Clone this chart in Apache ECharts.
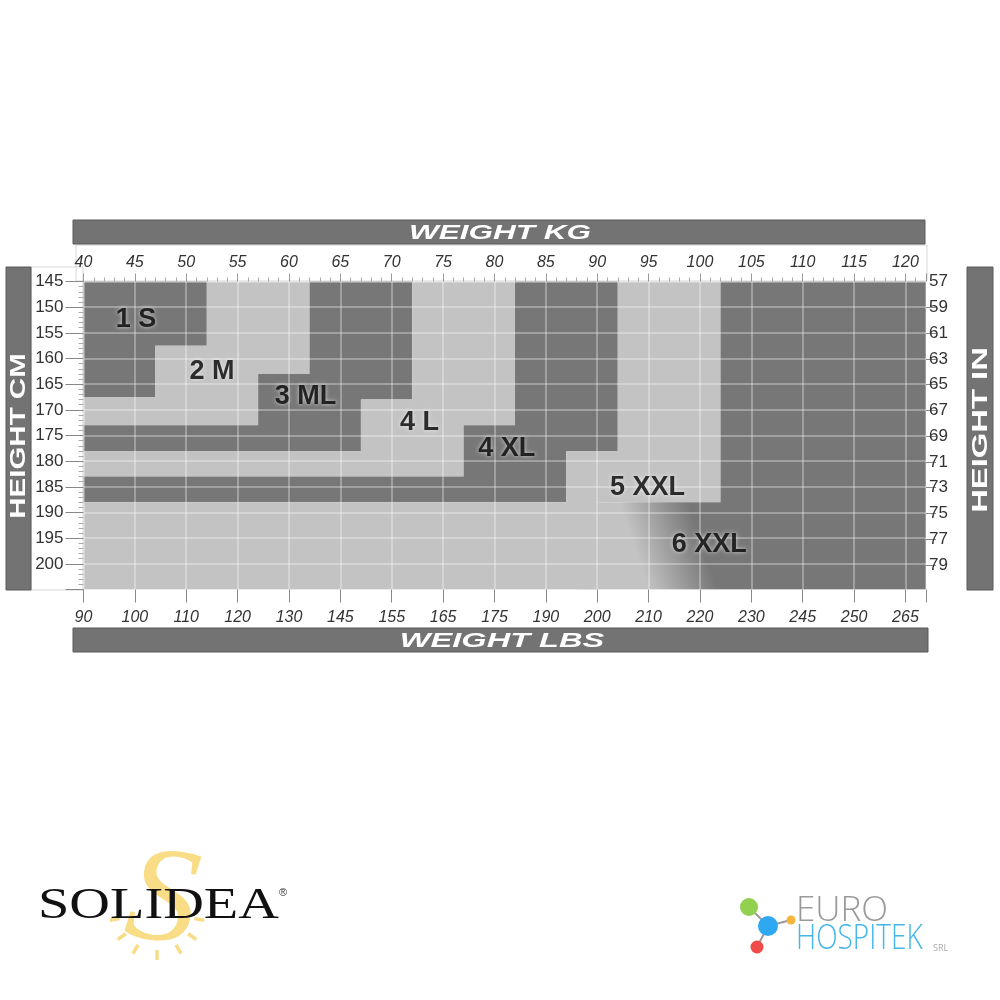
<!DOCTYPE html>
<html lang="en">
<head>
    <meta charset="UTF-8">
    <title>Size chart</title>
    <script src="https://cdn.jsdelivr.net/npm/echarts@6/dist/echarts.min.js"></script>
    <style>
        html, body { margin: 0; padding: 0; background: #fff; }
        #main { width: 1000px; height: 1000px; }
    </style>
</head>
<body>
<div id="main"></div>
<script>
    // axis ranges (kg on x, cm on y, inches on the right)
    var kgMin = 40, kgMax = 122;
    var cmMin = 145, cmMax = 205;
    var inMin = 57, inMax = 80.9;

    var kgLabels = [40, 45, 50, 55, 60, 65, 70, 75, 80, 85, 90, 95, 100, 105, 110, 115, 120];
    var lbsLabels = ['90', '100', '110', '120', '130', '145', '155', '165', '175', '190', '200', '210', '220', '230', '245', '250', '265'];
    var cmLabels = [145, 150, 155, 160, 165, 170, 175, 180, 185, 190, 195, 200];
    var inchTicks = [57, 59, 61, 63, 65, 67, 69, 71, 73, 75, 77, 79];

    // size areas, outline as [kg, cm]
    var sizeNames = ['1 S', '2 M', '3 ML', '4 L', '4 XL', '5 XXL', '6 XXL'];
    var sizeShapes = [
        [[40, 145], [52, 145], [52, 157.5], [47, 157.5], [47, 167.5], [40, 167.5]],
        [[52, 145], [62, 145], [62, 163], [57, 163], [57, 173], [40, 173], [40, 167.5], [47, 167.5], [47, 157.5], [52, 157.5]],
        [[62, 145], [72, 145], [72, 168], [67, 168], [67, 178], [40, 178], [40, 173], [57, 173], [57, 163], [62, 163]],
        [[72, 145], [82, 145], [82, 173], [77, 173], [77, 183], [40, 183], [40, 178], [67, 178], [67, 168], [72, 168]],
        [[82, 145], [92, 145], [92, 178], [87, 178], [87, 188], [40, 188], [40, 183], [77, 183], [77, 173], [82, 173]],
        [[92, 145], [102, 145], [102, 188], [90, 188], [90, 205], [40, 205], [40, 188], [87, 188], [87, 178], [92, 178]],
        [[102, 145], [122, 145], [122, 205], [88, 205], [88, 188], [102, 188]]
    ];
    var labelKg = [45.1, 52.5, 61.6, 72.7, 81.2, 94.9, 100.9];
    var labelCm = [152.4, 162.5, 167.4, 172.5, 177.5, 185.1, 196.3];

    var DARK = '#777777';
    var LIGHT = '#c3c3c3';

    function renderArea(params, api) {
        var idx = params.dataIndex;
        var pts = sizeShapes[idx].map(function (p) { return api.coord(p); });
        var fill = idx % 2 === 0 ? DARK : LIGHT;
        if (idx === sizeShapes.length - 1) {
            // soft blend into the last size at the bottom
            var p0 = api.coord([94, 199]);
            var p1 = api.coord([100, 195]);
            fill = new echarts.graphic.LinearGradient(p0[0], p0[1], p1[0], p1[1], [
                {offset: 0, color: LIGHT},
                {offset: 1, color: DARK}
            ], true);
        }
        return {
            type: 'polygon',
            shape: {points: pts},
            style: {fill: fill}
        };
    }

    var numFont = 'Liberation Sans';
    var gridLine = {show: true, lineStyle: {color: 'rgba(255,255,255,0.3)', width: 2}};

    var myChart = echarts.init(document.getElementById('main'));
    var option = {
        backgroundColor: '#fff',
        animation: false,
        grid: {left: 83.5, top: 281.5, width: 842.5, height: 308},
        xAxis: [{
            type: 'value', position: 'top', min: kgMin, max: kgMax, interval: 5, z: 5,
            axisLine: {show: false},
            axisTick: {length: 8, lineStyle: {color: '#999'}},
            minorTick: {show: true, splitNumber: 5, length: 4, lineStyle: {color: '#aaa'}},
            splitLine: gridLine,
            axisLabel: {
                margin: 11, fontSize: 16, fontStyle: 'italic', fontFamily: numFont, color: '#333',
                formatter: function (v) { return kgLabels.indexOf(v) >= 0 ? String(v) : ''; }
            }
        }, {
            type: 'value', position: 'bottom', min: kgMin, max: kgMax, interval: 5, z: 5,
            axisLine: {show: false},
            axisTick: {length: 13, lineStyle: {color: '#888'}},
            splitLine: {show: false},
            axisLabel: {
                margin: 20, fontSize: 16, fontStyle: 'italic', fontFamily: numFont, color: '#333',
                formatter: function (v) {
                    var i = kgLabels.indexOf(v);
                    return i >= 0 ? lbsLabels[i] : '';
                }
            }
        }],
        yAxis: [{
            type: 'value', position: 'left', inverse: true, min: cmMin, max: cmMax, interval: 5, z: 5,
            axisLine: {show: false},
            axisTick: {length: 18, lineStyle: {color: '#888'}},
            minorTick: {show: true, splitNumber: 5, length: 5, lineStyle: {color: '#aaa'}},
            splitLine: gridLine,
            axisLabel: {
                margin: 20, fontSize: 17, fontFamily: numFont, color: '#333',
                formatter: function (v) { return cmLabels.indexOf(v) >= 0 ? String(v) : ''; }
            }
        }, {
            type: 'value', position: 'right', inverse: true, min: inMin, max: inMax, z: 5,
            axisLine: {show: false},
            axisTick: {length: 10, customValues: inchTicks.slice(1), lineStyle: {color: '#888'}},
            splitLine: {show: false},
            axisLabel: {
                margin: 3, fontSize: 17, fontFamily: numFont, color: '#333',
                customValues: inchTicks
            }
        }],
        series: [{
            type: 'custom',
            z: 2,
            silent: true,
            renderItem: renderArea,
            data: sizeNames.map(function (n, i) { return {name: n, value: [labelKg[i], labelCm[i]]}; })
        }, {
            type: 'scatter',
            z: 10,
            silent: true,
            symbolSize: 1,
            itemStyle: {color: 'transparent'},
            label: {
                show: true, position: 'inside', formatter: '{b}',
                fontSize: 27, fontWeight: 'bold', fontFamily: 'Liberation Sans', color: '#000',
                textShadowColor: 'rgba(255,255,255,0.85)', textShadowBlur: 4
            },
            data: sizeNames.map(function (n, i) { return {name: n, value: [labelKg[i], labelCm[i]]}; })
        }],
        graphic: [
            // strips around the tick labels
            {type: 'rect', shape: {x: 76, y: 245, width: 851, height: 36}, style: {fill: 'none', stroke: '#d6d6d6', lineWidth: 1}},
            {type: 'rect', shape: {x: 31, y: 267, width: 52, height: 323}, style: {fill: 'none', stroke: '#d6d6d6', lineWidth: 1}},
            // title bars
            {type: 'rect', shape: {x: 73, y: 220, width: 852, height: 24}, style: {fill: '#737373', stroke: '#5a5a5a', lineWidth: 1}},
            {type: 'text', x: 500, y: 233, scaleX: 1.5,
                style: {text: 'WEIGHT KG', fill: '#fff', font: 'italic bold 21px "Liberation Sans"', align: 'center', verticalAlign: 'middle'}},
            {type: 'rect', shape: {x: 73, y: 628, width: 855, height: 24}, style: {fill: '#737373', stroke: '#5a5a5a', lineWidth: 1}},
            {type: 'text', x: 502, y: 641, scaleX: 1.55,
                style: {text: 'WEIGHT LBS', fill: '#fff', font: 'italic bold 21px "Liberation Sans"', align: 'center', verticalAlign: 'middle'}},
            {type: 'rect', shape: {x: 6, y: 267, width: 25, height: 323}, style: {fill: '#737373', stroke: '#5a5a5a', lineWidth: 1}},
            {type: 'text', x: 19, y: 436, rotation: Math.PI / 2, scaleX: 1.34,
                style: {text: 'HEIGHT CM', fill: '#fff', font: 'bold 22px "Liberation Sans"', align: 'center', verticalAlign: 'middle'}},
            {type: 'rect', shape: {x: 967, y: 267, width: 26, height: 323}, style: {fill: '#737373', stroke: '#5a5a5a', lineWidth: 1}},
            {type: 'text', x: 981, y: 430, rotation: Math.PI / 2, scaleX: 1.49,
                style: {text: 'HEIGHT IN', fill: '#fff', font: 'bold 22px "Liberation Sans"', align: 'center', verticalAlign: 'middle'}},

            // SOLIDEA logo
            {type: 'text', x: 162, y: 904, rotation: -0.12, scaleX: 1.05,
                style: {text: 'S', fill: '#f9dc86', font: 'italic 136px "Liberation Serif"', align: 'center', verticalAlign: 'middle'}},
            {type: 'group', children: [10, 35, 60, 90, 120, 145, 170].map(function (a) {
                var r = a * Math.PI / 180;
                return {type: 'line', shape: {
                    x1: 157 + 38 * Math.cos(r), y1: 912 + 38 * Math.sin(r),
                    x2: 157 + 48 * Math.cos(r), y2: 912 + 48 * Math.sin(r)
                }, style: {stroke: '#f9dc86', lineWidth: 3.5}};
            })},
            {type: 'text', x: 38, y: 906, scaleX: 1.28,
                style: {text: 'SOLIDEA', fill: '#111', font: '44px "Liberation Serif"', verticalAlign: 'middle'}},
            {type: 'text', x: 279, y: 893,
                style: {text: '®', fill: '#333', font: '11px "Liberation Sans"', verticalAlign: 'middle'}},

            // EURO HOSPITEK logo
            {type: 'line', shape: {x1: 749, y1: 907, x2: 768, y2: 926}, style: {stroke: '#9a9a9a', lineWidth: 2}},
            {type: 'line', shape: {x1: 768, y1: 926, x2: 791, y2: 920}, style: {stroke: '#9a9a9a', lineWidth: 2}},
            {type: 'line', shape: {x1: 768, y1: 926, x2: 757, y2: 947}, style: {stroke: '#9a9a9a', lineWidth: 2}},
            {type: 'circle', shape: {cx: 749, cy: 907, r: 9}, style: {fill: '#92d050'}},
            {type: 'circle', shape: {cx: 768, cy: 926, r: 10}, style: {fill: '#2ea8f0'}},
            {type: 'circle', shape: {cx: 791, cy: 920, r: 4.5}, style: {fill: '#f7b53c'}},
            {type: 'circle', shape: {cx: 757, cy: 947, r: 6.5}, style: {fill: '#ef4b4b'}},
            {type: 'text', x: 796, y: 911,
                style: {text: 'EURO', fill: '#9a9a9a', font: '300 35px "Open Sans"', verticalAlign: 'middle'}},
            {type: 'text', x: 796, y: 939, scaleX: 0.8,
                style: {text: 'HOSPITEK', fill: '#45b6ea', font: '300 35px "Open Sans"', verticalAlign: 'middle'}},
            {type: 'text', x: 933, y: 948,
                style: {text: 'SRL', fill: '#aaa', font: '9px "Open Sans"', verticalAlign: 'middle'}}
        ]
    };
    myChart.setOption(option);
</script>
</body>
</html>
